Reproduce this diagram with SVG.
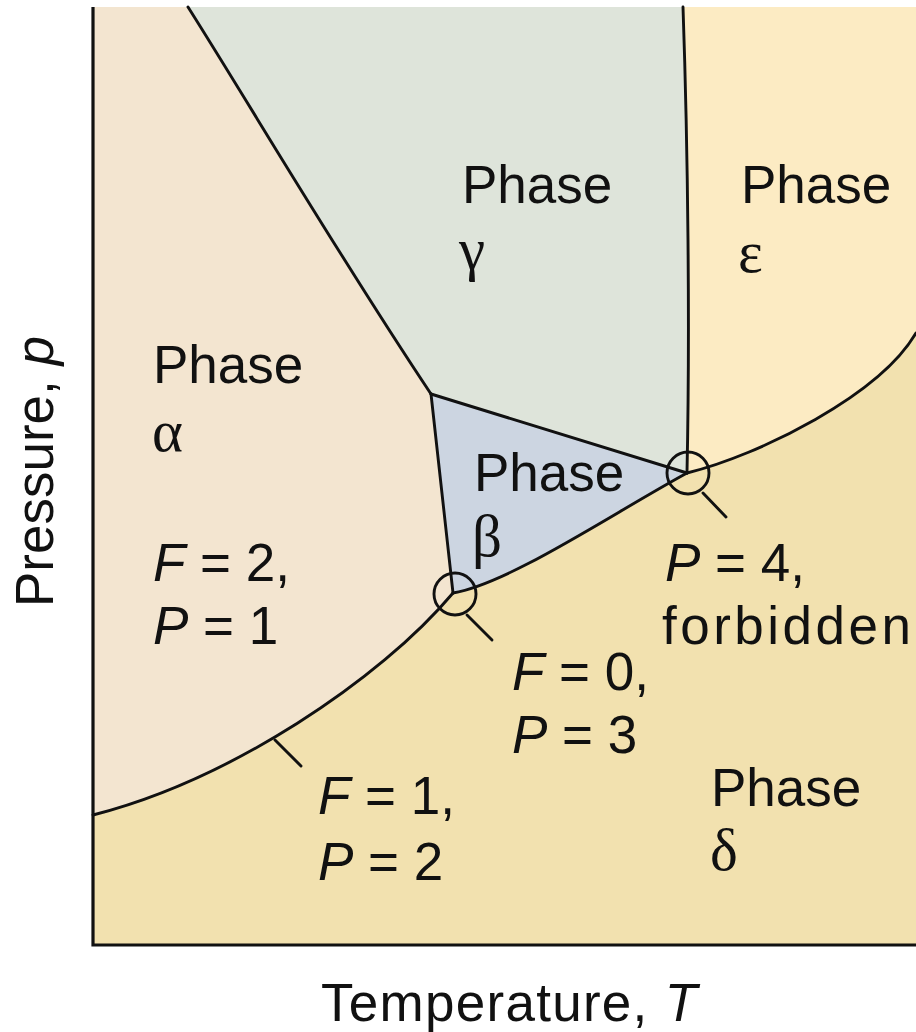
<svg xmlns="http://www.w3.org/2000/svg" width="916" height="1032" viewBox="0 0 916 1032">
<style>
.t{font-family:"Liberation Sans",Arial,sans-serif;font-size:53px;fill:#111}
.g{font-family:"Liberation Serif","Times New Roman",serif;font-size:59px;fill:#111}
.i{font-style:italic}
.ln{fill:none;stroke:#111;stroke-width:2.9;stroke-linecap:round;stroke-linejoin:round}
.fr{fill:none;stroke:#111;stroke-width:3.2}
</style>
<rect width="916" height="1032" fill="#ffffff"/>
<g id="regions" stroke="none">
<rect id="delta" x="93" y="7" width="823" height="938" fill="#F2E1AF"/>
<path id="alpha" d="M93,7 L188,7 C250,105 335,250 431,394 L453,593 C380,680 230,780 93,815 Z" fill="#F3E5D0"/>
<path id="gamma" d="M188,7 L683,7 C688,150 690,330 687,473 L431,394 C335,250 250,105 188,7 Z" fill="#DEE4DA"/>
<path id="epsilon" d="M683,7 L916,7 L916,333 C880,395 760,455 687,473 C690,330 688,150 683,7 Z" fill="#FCEBC3"/>
<path id="beta" d="M431,394 L687,473 C610,515 510,583 453,593 Z" fill="#CCD5E1"/>
</g>
<g id="boundaries" class="ln">
<path d="M188,7 C250,105 335,250 431,394"/>
<path d="M683,7 C688,150 690,330 687,473"/>
<path d="M687,473 C760,455 880,395 916,333"/>
<path d="M431,394 L687,473"/>
<path d="M431,394 L453,593"/>
<path d="M453,593 C510,583 610,515 687,473"/>
<path d="M453,593 C380,680 230,780 93,815"/>
<circle cx="455" cy="594" r="21"/>
<circle cx="688" cy="473" r="21"/>
<path d="M467,615 L492,640"/>
<path d="M703,493 L726,517"/>
<path d="M275,740 L301,766"/>
</g>
<path id="frame" class="fr" d="M93,7 L93,945 L916,945"/>
<g id="labels">
<text class="t" x="462" y="203">Phase</text>
<text class="g" x="459" y="269">γ</text>
<text class="t" x="741" y="203">Phase</text>
<text class="g" x="738" y="272">ε</text>
<text class="t" x="153" y="383">Phase</text>
<text class="g" x="152" y="451">α</text>
<text class="t" x="153" y="581"><tspan class="i">F</tspan> = 2,</text>
<text class="t" x="153" y="644"><tspan class="i">P</tspan> = 1</text>
<text class="t" x="474" y="491">Phase</text>
<text class="g" x="472" y="556">β</text>
<text class="t" x="665" y="581"><tspan class="i">P</tspan> = 4,</text>
<text class="t" x="662" y="644" textLength="249" lengthAdjust="spacing">forbidden</text>
<text class="t" x="512" y="690"><tspan class="i">F</tspan> = 0,</text>
<text class="t" x="512" y="753"><tspan class="i">P</tspan> = 3</text>
<text class="t" x="711" y="806">Phase</text>
<text class="g" x="710" y="870">δ</text>
<text class="t" x="318" y="814"><tspan class="i">F</tspan> = 1,</text>
<text class="t" x="318" y="880"><tspan class="i">P</tspan> = 2</text>
<text class="t" x="321" y="1021" font-size="51" textLength="376" lengthAdjust="spacing">Temperature, <tspan class="i">T</tspan></text>
<text class="t" transform="translate(53,607) rotate(-90)" font-size="52">Pressure, <tspan class="i">p</tspan></text>
</g>
</svg>
